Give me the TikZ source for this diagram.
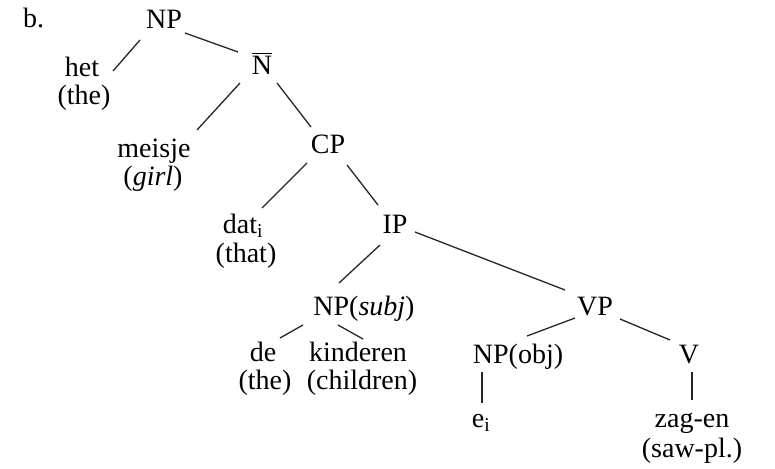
\documentclass[tikz,border=0pt]{standalone}
\usepackage{fontspec}
\setmainfont{Liberation Serif}
\begin{document}
\begin{tikzpicture}[x=1pt,y=-1pt,
  lbl/.style={inner sep=0pt,anchor=base,font=\fontsize{28}{30}\selectfont},
  edge/.style={line width=1.3pt,draw=black!85}]
\useasboundingbox (0,0) rectangle (775,468);
% labels
\node[lbl,anchor=base west] (b) at (23,28) {b.};
\node[lbl] (NP) at (164,29) {NP};
\node[lbl] (Nbar) at (262,75) {$\overline{\mbox{\rule{0pt}{20pt}N}}$};
\node[lbl] (het) at (82,77) {het};
\node[lbl] (hetg) at (84,105) {(the)};
\node[lbl] (meisje) at (154,157) {meisje};
\node[lbl] (meisjeg) at (153,185) {(\textit{girl})};
\node[lbl] (CP) at (328,153) {CP};
\node[lbl] (dat) at (243,233) {dat\textsubscript{i}};
\node[lbl] (datg) at (246,262) {(that)};
\node[lbl] (IP) at (395,233) {IP};
\node[lbl] (NPs) at (364,315) {NP(\textit{subj})};
\node[lbl] (VP) at (595,315) {VP};
\node[lbl] (de) at (263,361) {de};
\node[lbl] (deg) at (265,389) {(the)};
\node[lbl] (kind) at (358,361) {kinderen};
\node[lbl] (kindg) at (362,389) {(children)};
\node[lbl] (NPo) at (518,363) {NP(obj)};
\node[lbl] (V) at (689,363) {V};
\node[lbl] (e) at (481,427) {e\textsubscript{i}};
\node[lbl] (zag) at (692,427) {zag-en};
\node[lbl] (zagg) at (692,457) {(saw-pl.)};
% connectors
\draw[edge] ([shift={(-24,11)}]NP.base) -- ([shift={(31,-6)}]het.base);
\draw[edge] ([shift={(21,4)}]NP.base) -- ([shift={(-24,-23)}]Nbar.base);
\draw[edge] ([shift={(-22,8)}]Nbar.base) -- ([shift={(43,-27)}]meisje.base);
\draw[edge] ([shift={(15,8)}]Nbar.base) -- ([shift={(-17,-26)}]CP.base);
\draw[edge] ([shift={(-21,10)}]CP.base) -- ([shift={(19,-25)}]dat.base);
\draw[edge] ([shift={(19,12)}]CP.base) -- ([shift={(-17,-28)}]IP.base);
\draw[edge] ([shift={(-15,12)}]IP.base) -- ([shift={(-25,-32)}]NPs.base);
\draw[edge] ([shift={(20,-1)}]IP.base) -- ([shift={(-30,-25)}]VP.base);
\draw[edge] ([shift={(-61,10)}]NPs.base) -- ([shift={(17,-23)}]de.base);
\draw[edge] ([shift={(-26,10)}]NPs.base) -- ([shift={(5,-22)}]kind.base);
\draw[edge] ([shift={(-20,3)}]VP.base) -- ([shift={(9,-27)}]NPo.base);
\draw[edge] ([shift={(25,4)}]VP.base) -- ([shift={(-19,-23)}]V.base);
\draw[edge] ([shift={(-36,9)}]NPo.base) -- ([shift={(1,-24)}]e.base);
\draw[edge] ([shift={(3,9)}]V.base) -- ([shift={(0,-27)}]zag.base);
\end{tikzpicture}
\end{document}
